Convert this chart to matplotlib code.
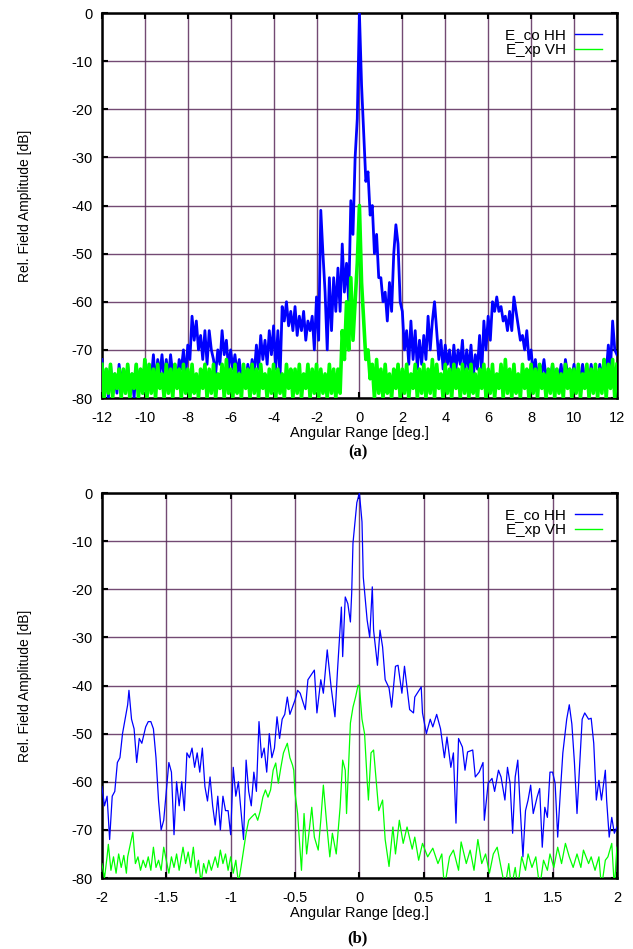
"""Diagram vyzařování antény: co-polarizace a křížová polarizace."""

import numpy as np
import matplotlib.pyplot as plt

plt.rcParams['font.family'] = ['Liberation Sans', 'DejaVu Sans']
plt.rcParams['axes.unicode_minus'] = False

# ---------------------------------------------------------------------------
# panel (a): úhel -12..12 deg, krok 0.1 deg
a_angle = np.linspace(-12.0, 12.0, 241)

a_co = [
    -72, -79, -74, -80, -73, -78, -75, -79, -73, -77,
    -74, -79, -73, -78, -75, -80, -73, -77, -74, -79,
    -72, -77, -73, -76, -71, -77, -72, -75, -71, -76,
    -72, -76, -71, -75, -73, -77, -72, -74, -70, -76,
    -69, -72, -63, -68, -64, -70, -67, -72, -66, -73,
    -66, -70, -72, -75, -70, -73, -66, -71, -68, -74,
    -70, -74, -71, -75, -72, -76, -74, -77, -73, -76,
    -72, -75, -69, -74, -67, -72, -68, -73, -66, -71,
    -65, -74, -66, -76, -61, -64, -60, -65, -62, -66,
    -61, -67, -63, -66, -62, -68, -64, -66, -63, -70,
    -59, -68, -41, -50, -58, -70, -55, -66, -55, -62,
    -53, -62, -48, -58, -52, -60, -39, -46, -30, -22,
    0, -15, -25, -35, -33, -42, -40, -50, -46, -55,
    -55, -60, -58, -64, -56, -62, -50, -44, -48, -60,
    -62, -70, -66, -73, -64, -72, -66, -74, -68, -73,
    -67, -72, -63, -70, -64, -60, -66, -72, -68, -74,
    -69, -73, -70, -75, -69, -74, -70, -73, -68, -75,
    -70, -74, -69, -76, -71, -74, -67, -75, -64, -70,
    -63, -68, -60, -62, -59, -62, -61, -64, -63, -66,
    -62, -66, -59, -62, -65, -68, -67, -70, -66, -72,
    -70, -75, -72, -76, -73, -75, -72, -76, -74, -76,
    -73, -77, -74, -76, -73, -77, -72, -75, -74, -76,
    -73, -77, -74, -76, -73, -76, -74, -77, -73, -76,
    -74, -77, -73, -76, -72, -75, -69, -74, -64, -70,
    -71,
]

a_xp = [
    -73, -80, -74, -79, -73, -80, -75, -78, -74, -80,
    -74, -79, -73, -80, -75, -78, -73, -80, -74, -79,
    -72, -80, -73, -79, -74, -80, -73, -78, -75, -80,
    -73, -79, -74, -80, -73, -78, -74, -80, -73, -79,
    -74, -80, -73, -79, -75, -80, -74, -78, -73, -80,
    -74, -79, -73, -80, -75, -78, -73, -80, -72, -79,
    -74, -80, -73, -79, -75, -80, -73, -78, -74, -80,
    -73, -79, -74, -80, -73, -78, -75, -80, -74, -79,
    -73, -80, -74, -79, -75, -80, -73, -78, -74, -80,
    -74, -79, -73, -80, -75, -78, -73, -80, -74, -79,
    -73, -80, -74, -79, -75, -80, -73, -79, -74, -80,
    -74, -79, -66, -72, -60, -70, -55, -68, -60, -52,
    -40, -56, -64, -72, -70, -76, -73, -80, -72, -79,
    -74, -80, -73, -79, -75, -80, -74, -78, -73, -80,
    -74, -79, -73, -80, -75, -78, -73, -80, -74, -79,
    -73, -80, -74, -79, -72, -80, -73, -78, -75, -80,
    -73, -79, -74, -80, -73, -78, -74, -80, -73, -79,
    -74, -80, -73, -79, -75, -80, -74, -78, -73, -80,
    -74, -79, -73, -80, -75, -78, -73, -80, -72, -79,
    -74, -80, -73, -79, -75, -80, -73, -78, -74, -80,
    -73, -79, -74, -80, -73, -78, -75, -80, -74, -79,
    -73, -80, -74, -79, -75, -80, -73, -78, -74, -80,
    -74, -79, -73, -80, -75, -78, -73, -80, -74, -79,
    -73, -80, -74, -79, -72, -80, -73, -78, -72, -80,
    -73,
]

# ---------------------------------------------------------------------------
# panel (b): úhel -2..2 deg
b_co_angle = [
    -2.00, -1.98, -1.96, -1.94, -1.92, -1.90, -1.88, -1.86, -1.84, -1.82,
    -1.80, -1.79, -1.77, -1.75, -1.73, -1.71, -1.69, -1.66, -1.64, -1.62,
    -1.60, -1.58, -1.56, -1.54, -1.52, -1.50, -1.48, -1.46, -1.44, -1.42,
    -1.40, -1.38, -1.36, -1.34, -1.32, -1.30, -1.28, -1.26, -1.24, -1.22,
    -1.20, -1.18, -1.16, -1.14, -1.12, -1.10, -1.08, -1.06, -1.04, -1.02,
    -1.00, -0.98, -0.96, -0.94, -0.92, -0.90, -0.88, -0.86, -0.84, -0.82,
    -0.80, -0.78, -0.76, -0.74, -0.72, -0.70, -0.68, -0.66, -0.64, -0.62,
    -0.60, -0.58, -0.56, -0.54, -0.52, -0.50, -0.48, -0.46, -0.42, -0.40,
    -0.35, -0.33, -0.30, -0.28, -0.25, -0.22, -0.19, -0.17, -0.14, -0.13,
    -0.11, -0.09, -0.07, -0.06, -0.05, -0.02, 0.00, 0.02, 0.03, 0.06,
    0.08, 0.10, 0.11, 0.14, 0.16, 0.18, 0.20, 0.23, 0.25, 0.28,
    0.30, 0.33, 0.35, 0.39, 0.42, 0.43, 0.48, 0.49, 0.52, 0.55,
    0.57, 0.60, 0.63, 0.66, 0.68, 0.71, 0.73, 0.75, 0.77, 0.80,
    0.82, 0.84, 0.88, 0.90, 0.93, 0.96, 0.97, 1.00, 1.03, 1.05,
    1.08, 1.10, 1.13, 1.15, 1.17, 1.19, 1.21, 1.23, 1.25, 1.27,
    1.29, 1.31, 1.33, 1.35, 1.38, 1.40, 1.42, 1.44, 1.46, 1.48,
    1.50, 1.52, 1.54, 1.56, 1.58, 1.61, 1.63, 1.65, 1.67, 1.69,
    1.71, 1.73, 1.75, 1.78, 1.80, 1.82, 1.84, 1.86, 1.88, 1.91,
    1.92, 1.94, 1.96, 1.98, 2.00,
]
b_co = [
    -61, -65, -63, -72, -63, -62, -56, -55, -50, -47,
    -44, -41, -47, -49, -56, -51, -52, -48.6, -47.5, -47.5,
    -49, -55, -64, -70, -68, -62, -56, -58, -71, -60,
    -65, -60, -66, -54, -55, -53, -57, -54, -58, -53,
    -61, -64, -59, -65, -69, -63, -70, -63, -66, -66,
    -71, -57, -63, -60, -66, -72, -55.5, -62, -65, -58,
    -62, -47.5, -55, -53, -58, -50, -55, -53, -46.5, -51,
    -47, -46, -42.4, -46, -44.5, -43, -41, -41.6, -45, -38.8,
    -36.8, -45.7, -38.8, -41.6, -32.6, -40.3, -46.5, -36.8, -23.7, -34,
    -21.6, -23, -26.8, -20.8, -10.4, -2, 0, -6, -17.5, -26.4,
    -30, -19.5, -28.5, -35.8, -28.5, -32, -38.8, -40.5, -44.5, -36,
    -35.8, -41.6, -36, -45, -45.7, -42.4, -40.3, -45.7, -50, -47,
    -48.6, -46, -49, -55, -50.7, -57, -54, -68.6, -51, -52.8,
    -57.6, -53.8, -53.4, -59, -58, -56, -68, -60.3, -59.3, -62,
    -57.6, -59, -63.8, -57, -60.3, -70.7, -59, -55.5, -66, -75.6,
    -66, -63.8, -60.7, -66.6, -63.2, -61.4, -73.6, -65.3, -67.4, -58,
    -58, -60.3, -71.5, -62.4, -54, -47, -44, -48, -56, -66.6,
    -57, -47, -45.7, -47, -46.8, -52, -63.8, -59.7, -63.8, -57.6,
    -63.8, -71.5, -67.4, -70.7, -69.4,
]

b_xp_angle = [
    -2.00, -1.98, -1.96, -1.95, -1.93, -1.91, -1.89, -1.87, -1.85, -1.83,
    -1.81, -1.80, -1.78, -1.76, -1.74, -1.72, -1.70, -1.68, -1.66, -1.64,
    -1.62, -1.60, -1.58, -1.56, -1.54, -1.52, -1.50, -1.48, -1.46, -1.44,
    -1.42, -1.40, -1.37, -1.35, -1.33, -1.31, -1.29, -1.27, -1.25, -1.23,
    -1.21, -1.19, -1.17, -1.15, -1.12, -1.10, -1.08, -1.06, -1.04, -1.02,
    -1.00, -0.98, -0.96, -0.94, -0.92, -0.90, -0.88, -0.86, -0.84, -0.81,
    -0.79, -0.77, -0.75, -0.73, -0.71, -0.69, -0.67, -0.65, -0.63, -0.61,
    -0.59, -0.56, -0.54, -0.52, -0.51, -0.50, -0.48, -0.47, -0.45, -0.43,
    -0.41, -0.37, -0.35, -0.32, -0.30, -0.28, -0.25, -0.23, -0.21, -0.18,
    -0.15, -0.13, -0.11, -0.10, -0.07, -0.05, -0.03, -0.01, 0.00, 0.02,
    0.04, 0.06, 0.07, 0.09, 0.11, 0.13, 0.15, 0.18, 0.20, 0.23,
    0.26, 0.28, 0.31, 0.34, 0.37, 0.41, 0.43, 0.46, 0.49, 0.53,
    0.57, 0.61, 0.64, 0.66, 0.70, 0.73, 0.77, 0.79, 0.83, 0.86,
    0.89, 0.92, 0.95, 0.98, 1.01, 1.04, 1.07, 1.10, 1.13, 1.16,
    1.18, 1.21, 1.23, 1.26, 1.29, 1.31, 1.34, 1.37, 1.40, 1.43,
    1.46, 1.48, 1.51, 1.54, 1.57, 1.60, 1.63, 1.66, 1.69, 1.72,
    1.74, 1.78, 1.80, 1.83, 1.86, 1.88, 1.91, 1.93, 1.96, 1.98,
    2.00,
]
b_xp = [
    -77, -80, -75.6, -73, -78.4, -75.6, -79, -75, -77.8, -75.3,
    -79, -75.6, -73, -70.5, -77, -75.6, -78.4, -76.3, -77.8, -75.6,
    -78.4, -73.6, -77.8, -76.3, -78.4, -73.6, -76.3, -79, -75.6, -77.8,
    -75, -78.4, -73.6, -77, -74.6, -77.8, -73.6, -79, -76.3, -81,
    -77, -79, -76.3, -78.4, -75.6, -77.8, -74.2, -77, -75, -78.4,
    -75.6, -79, -76.3, -81, -77.8, -74.2, -70.7, -68, -67.4, -66.6,
    -68, -66, -63.2, -61.7, -63.2, -61.7, -57.6, -56.1, -60.3, -57,
    -54, -52, -55, -56.5, -57.6, -62.4, -66.6, -70.7, -78.4, -66.6,
    -75, -65.3, -71.5, -74.2, -68, -60.7, -70, -75.6, -70.7, -75,
    -65.3, -55.5, -57.6, -66.6, -47.8, -44.5, -42.4, -39.9, -40.3, -47,
    -50, -59.7, -63.8, -54, -53.4, -59.7, -66, -63.8, -72, -77.6,
    -69.4, -75, -68, -72.8, -69.4, -74, -71.5, -76.3, -72.8, -75.6,
    -73.8, -77, -75, -82, -75.6, -74.2, -78.4, -72.5, -77, -74.2,
    -78.4, -72, -77, -75, -79, -75, -73.6, -77.8, -82, -77,
    -82, -77.8, -82, -75.6, -78.4, -75, -77.8, -75.6, -82, -76.3,
    -78.4, -75, -77.8, -73.6, -77, -72.8, -75.6, -77.8, -75, -77.8,
    -74.2, -77, -75.6, -78.4, -75.6, -82, -76.3, -75.6, -72.8, -82,
    -73.6,
]

# ---------------------------------------------------------------------------
grid_color = "#5a2a5a"

fig = plt.figure(figsize=(6.33, 9.49), dpi=100)
ax_a = fig.add_axes([0.161, 0.5806, 0.8136, 0.4057])
ax_b = fig.add_axes([0.161, 0.0748, 0.8136, 0.4057])

panels = [
    (ax_a, a_angle, a_co, a_angle, a_xp, (-12, 12), np.arange(-12, 13, 2),
     2.0, 2.6, "(a)", 0.5237),
    (ax_b, b_co_angle, b_co, b_xp_angle, b_xp, (-2, 2), np.arange(-2, 2.01, 0.5),
     0.9, 0.9, "(b)", 0.0116),
]

for ax, xc, yc, xx, yx, xlim, xticks, lw_co, lw_xp, tag, tag_y in panels:
    ax.plot(xc, yc, color="#0000ff", lw=lw_co, label="E_co HH", zorder=3)
    ax.plot(xx, yx, color="#00ff00", lw=lw_xp, label="E_xp VH", zorder=4)

    ax.set_xlim(*xlim)
    ax.set_ylim(-80, 0)
    ax.set_xticks(xticks)
    ax.set_xticklabels(["%g" % t for t in xticks])
    ax.set_yticks(np.arange(-80, 1, 10))

    ax.grid(True, color=grid_color, lw=1.0, alpha=0.85)
    ax.set_axisbelow(True)
    ax.tick_params(direction="in", length=4, width=1.5, top=True, right=True,
                   labelsize=10.5, colors="black")
    ax.tick_params(axis="x", pad=9)
    ax.tick_params(axis="y", pad=7)
    for sp in ax.spines.values():
        sp.set_linewidth(1.8)

    ax.set_xlabel("Angular Range [deg.]", fontsize=10.5, labelpad=1)
    ax.set_ylabel("Rel. Field Amplitude [dB]", fontsize=10, labelpad=28)

    leg = ax.legend(loc="upper right", frameon=False, markerfirst=False,
                    fontsize=11, handlelength=1.75, handletextpad=0.6,
                    labelspacing=0.05, borderaxespad=0.6)
    for line in leg.get_lines():
        line.set_linewidth(1.0)

    fig.text(0.565, tag_y, tag, ha="center", va="center",
             family="Liberation Serif", weight="bold", fontsize=12)

plt.savefig("out.png", dpi=100)
